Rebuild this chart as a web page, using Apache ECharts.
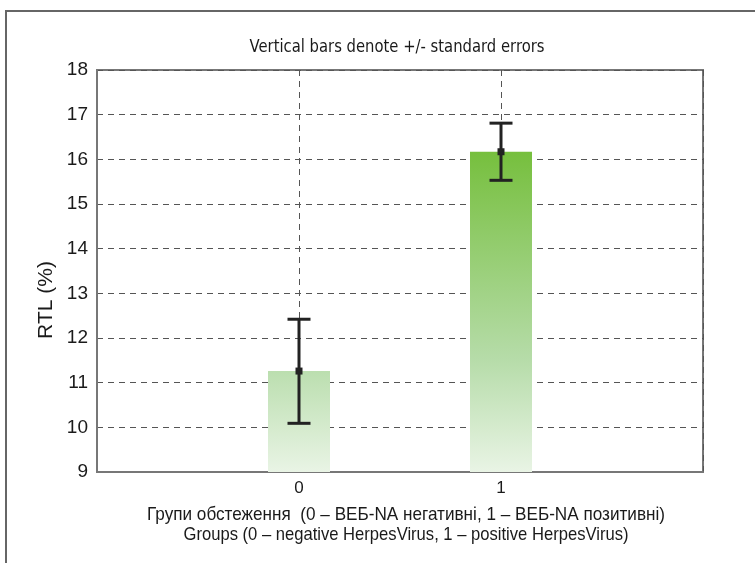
<!DOCTYPE html>
<html>
<head>
<meta charset="utf-8">
<script src="https://cdn.jsdelivr.net/npm/echarts@6/dist/echarts.min.js"></script>
<style>
    html, body { margin: 0; padding: 0; background: #fff; }
    #chart { width: 755px; height: 563px; }
</style>
</head>
<body>
<div id="chart"></div>
<script>
    // groups on the x axis and their means with +/- standard errors
    const groups = ['0', '1']
    const means = [11.26, 16.17]
    const errLow = [10.09, 15.53]
    const errHigh = [12.42, 16.81]
    const yTicks = [9, 10, 11, 12, 13, 14, 15, 16, 17, 18]

    const titleText = 'Vertical bars denote +/- standard errors'
    const xNameUk = 'Групи обстеження  (0 – ВЕБ-NA негативні, 1 – ВЕБ-NA позитивні)'
    const xNameEn = 'Groups (0 – negative HerpesVirus, 1 – positive HerpesVirus)'

    // pad with empty slots so 0 and 1 sit at 1/3 and 2/3 of the axis
    const cats = [''].concat(groups, [''])
    const barData = ['-'].concat(means, ['-'])
    const errData = groups.map((g, i) => [i + 1, errLow[i], errHigh[i], means[i]])

    // the original uses condensed faces, squeeze ordinary ones to the same width
    const ctx = document.createElement('canvas').getContext('2d')
    function squeeze (text, font, width) {
        ctx.font = font
        return width / ctx.measureText(text).width
    }

    function narrowText (text, x, y, family, size, width) {
        return {
            type: 'text',
            x: x,
            y: y,
            scaleX: squeeze(text, size + 'px "' + family + '"', width),
            silent: true,
            style: {
                text: text,
                fontFamily: family,
                fontSize: size,
                fill: '#1a1a1a',
                align: 'center',
                verticalAlign: 'middle'
            }
        }
    }

    const chart = echarts.init(document.getElementById('chart'))

    chart.setOption({
        animation: false,
        graphic: [{
            type: 'rect',
            shape: { x: 6, y: 11, width: 900, height: 700 },
            style: { fill: 'none', stroke: '#666', lineWidth: 2 },
            silent: true
        },
        narrowText(titleText, 397, 47, 'DejaVu Sans', 17.5, 295),
        narrowText(xNameUk, 406, 515, 'Liberation Sans', 19, 518),
        narrowText(xNameEn, 406, 535, 'Liberation Sans', 19, 445),
        {
            type: 'text',
            x: 46,
            y: 300,
            rotation: Math.PI / 2,
            style: {
                text: 'RTL (%)',
                fontFamily: 'Liberation Sans',
                fontSize: 21,
                fill: '#1a1a1a',
                align: 'center',
                verticalAlign: 'middle'
            }
        }],
        grid: {
            left: 97,
            right: 52,
            top: 70,
            bottom: 91,
            show: true,
            borderColor: '#777',
            borderWidth: 2
        },
        xAxis: {
            type: 'category',
            data: cats,
            boundaryGap: false,
            axisLine: { lineStyle: { color: '#777', width: 2 } },
            axisTick: { show: false },
            axisLabel: {
                fontFamily: 'Liberation Sans',
                fontSize: 17,
                color: '#1a1a1a',
                margin: 8
            },
            splitLine: {
                show: true,
                lineStyle: { color: '#555', type: [6, 5], width: 1 }
            }
        },
        yAxis: {
            type: 'value',
            min: yTicks[0],
            max: yTicks[yTicks.length - 1],
            interval: 1,
            axisLine: { show: true, lineStyle: { color: '#777', width: 2 } },
            axisTick: { show: false },
            axisLabel: {
                fontFamily: 'Liberation Sans',
                fontSize: 19,
                color: '#1a1a1a',
                margin: 9
            },
            splitLine: {
                lineStyle: { color: '#555', type: [6, 5], width: 1 }
            }
        },
        series: [{
            type: 'bar',
            data: barData,
            barWidth: 62,
            z: 1,
            itemStyle: {
                color: new echarts.graphic.LinearGradient(0, 151, 0, 472, [
                    { offset: 0, color: '#76bf3d' },
                    { offset: 0.65, color: '#b6dca9' },
                    { offset: 1, color: '#e9f4e5' }
                ], true)
            }
        }, {
            type: 'custom',
            data: errData,
            z: 5,
            renderItem (params, api) {
                const x = api.value(0)
                const lo = api.coord([x, api.value(1)])
                const hi = api.coord([x, api.value(2)])
                const mid = api.coord([x, api.value(3)])
                const cap = 11.5
                const style = { stroke: '#222', lineWidth: 3 }
                return {
                    type: 'group',
                    children: [
                        { type: 'line', shape: { x1: hi[0], y1: hi[1], x2: lo[0], y2: lo[1] }, style },
                        { type: 'line', shape: { x1: hi[0] - cap, y1: hi[1], x2: hi[0] + cap, y2: hi[1] }, style },
                        { type: 'line', shape: { x1: lo[0] - cap, y1: lo[1], x2: lo[0] + cap, y2: lo[1] }, style },
                        { type: 'rect', shape: { x: mid[0] - 3.5, y: mid[1] - 3.5, width: 7, height: 7 }, style: { fill: '#222' } }
                    ]
                }
            }
        }]
    })
</script>
</body>
</html>
